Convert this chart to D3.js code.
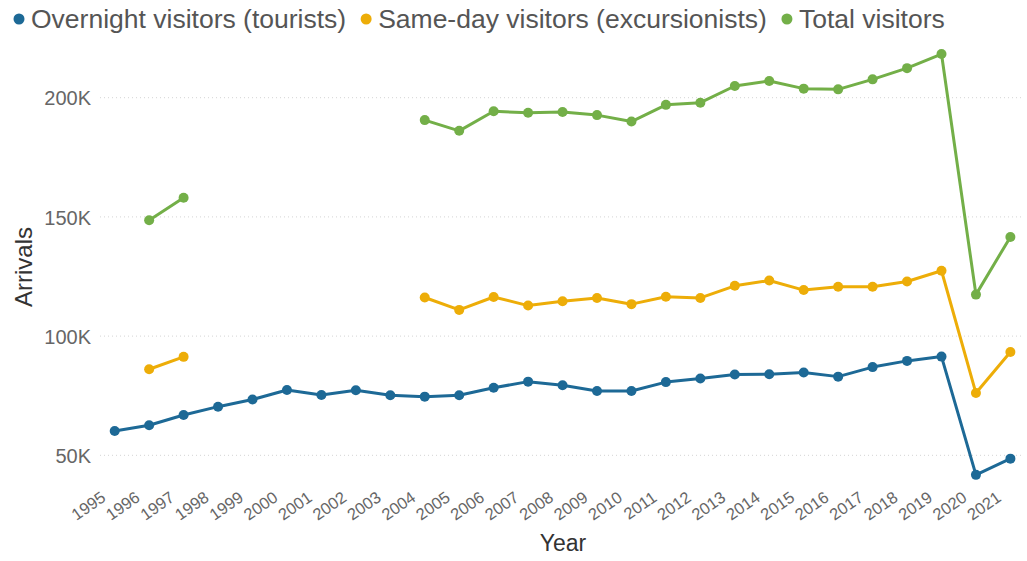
<!DOCTYPE html>
<html>
<head>
<meta charset="utf-8">
<script src="https://cdn.jsdelivr.net/npm/d3@7"></script>
<style>
  body { margin: 0; background: #fff; }
  text { font-family: "Liberation Sans", Arial, sans-serif; }
</style>
</head>
<body>
<div id="chart"></div>
<script>
// Data
const years = ['1995', '1996', '1997', '1998', '1999', '2000', '2001', '2002', '2003',
    '2004', '2005', '2006', '2007', '2008', '2009', '2010', '2011', '2012', '2013',
    '2014', '2015', '2016', '2017', '2018', '2019', '2020', '2021'];

const overnight = [60200, 62600, 66900, 70400, 73400, 77400, 75300, 77300, 75200,
    74600, 75200, 78300, 80900, 79400, 77000, 77000, 80700, 82200, 83900,
    84000, 84700, 83000, 87000, 89600, 91400, 41800, 48600];

const sameDay = [null, 86100, 91300, null, null, null, null, null, null,
    116200, 111000, 116400, 112800, 114600, 116000, 113400, 116500, 116000, 121100,
    123300, 119300, 120700, 120700, 122900, 127400, 76100, 93300];

const total = [null, 148600, 158000, null, null, null, null, null, null,
    190600, 186100, 194300, 193700, 194000, 192700, 190000, 197000, 197900, 204900,
    207000, 203800, 203500, 207700, 212400, 218300, 117400, 141600];

const seriesNames = ['Overnight visitors (tourists)', 'Same-day visitors (excursionists)', 'Total visitors'];
const seriesColors = ['#1D6996', '#EDAD08', '#73AF48'];
const yTicks = [50000, 100000, 150000, 200000];

const drawChart = () => {
    const width = 1027;
    const height = 561;

    const svg = d3.select('#chart')
        .append('svg')
        .attr('width', width)
        .attr('height', height);

    const x = d3.scalePoint()
        .domain(years)
        .range([114.7, 1010.4]);

    const y = d3.scaleLinear()
        .domain([50000, 200000])
        .range([455.3, 97.7]);

    // gridlines
    svg.append('g')
        .selectAll('line')
        .data(yTicks)
        .join('line')
        .attr('x1', 100)
        .attr('x2', 1022)
        .attr('y1', d => y(d))
        .attr('y2', d => y(d))
        .attr('stroke', '#d4d4d4')
        .attr('stroke-width', 1)
        .attr('stroke-dasharray', '1,3');

    // y axis labels
    const yAxis = svg.append('g')
        .attr('transform', 'translate(91,0)')
        .call(d3.axisLeft(y).tickValues(yTicks).tickSize(0).tickPadding(0)
            .tickFormat(d => d3.format('~s')(d).replace('k', 'K')));
    yAxis.select('.domain').remove();
    yAxis.selectAll('text')
        .attr('font-size', 20)
        .attr('fill', '#666')
        .attr('dy', '0.36em');

    // x axis labels
    const xAxis = svg.append('g');
    xAxis.selectAll('text')
        .data(years)
        .join('text')
        .attr('transform', d => `translate(${x(d) - 8},500) rotate(-35)`)
        .attr('text-anchor', 'end')
        .attr('font-size', 16.5)
        .attr('fill', '#666')
        .text(d => d);

    // axis titles
    svg.append('text')
        .attr('x', 563)
        .attr('y', 551)
        .attr('text-anchor', 'middle')
        .attr('font-size', 23)
        .attr('fill', '#333')
        .text('Year');

    svg.append('text')
        .attr('transform', 'translate(32,267) rotate(-90)')
        .attr('text-anchor', 'middle')
        .attr('font-size', 24)
        .attr('fill', '#333')
        .text('Arrivals');

    // lines
    const allSeries = [overnight, sameDay, total];
    const line = d3.line()
        .defined(d => d != null)
        .x((d, i) => x(years[i]))
        .y(d => y(d));

    allSeries.forEach((values, s) => {
        const g = svg.append('g');
        g.append('path')
            .datum(values)
            .attr('fill', 'none')
            .attr('stroke', seriesColors[s])
            .attr('stroke-width', 3)
            .attr('stroke-linejoin', 'round')
            .attr('d', line);
        g.selectAll('circle')
            .data(values.map((v, i) => ({ year: years[i], v })).filter(d => d.v != null))
            .join('circle')
            .attr('cx', d => x(d.year))
            .attr('cy', d => y(d.v))
            .attr('r', 5)
            .attr('fill', seriesColors[s]);
    });

    // legend
    const legend = svg.append('g');
    let lx = 19;
    seriesNames.forEach((name, i) => {
        legend.append('circle')
            .attr('cx', lx)
            .attr('cy', 19)
            .attr('r', 5.5)
            .attr('fill', seriesColors[i]);
        const t = legend.append('text')
            .attr('x', lx + 12)
            .attr('y', 28)
            .attr('font-size', 26.5)
            .attr('fill', '#555')
            .text(name);
        lx = lx + 12 + t.node().getComputedTextLength() + 20;
    });
};

document.addEventListener('DOMContentLoaded', () => {
    drawChart();
});
</script>
</body>
</html>
